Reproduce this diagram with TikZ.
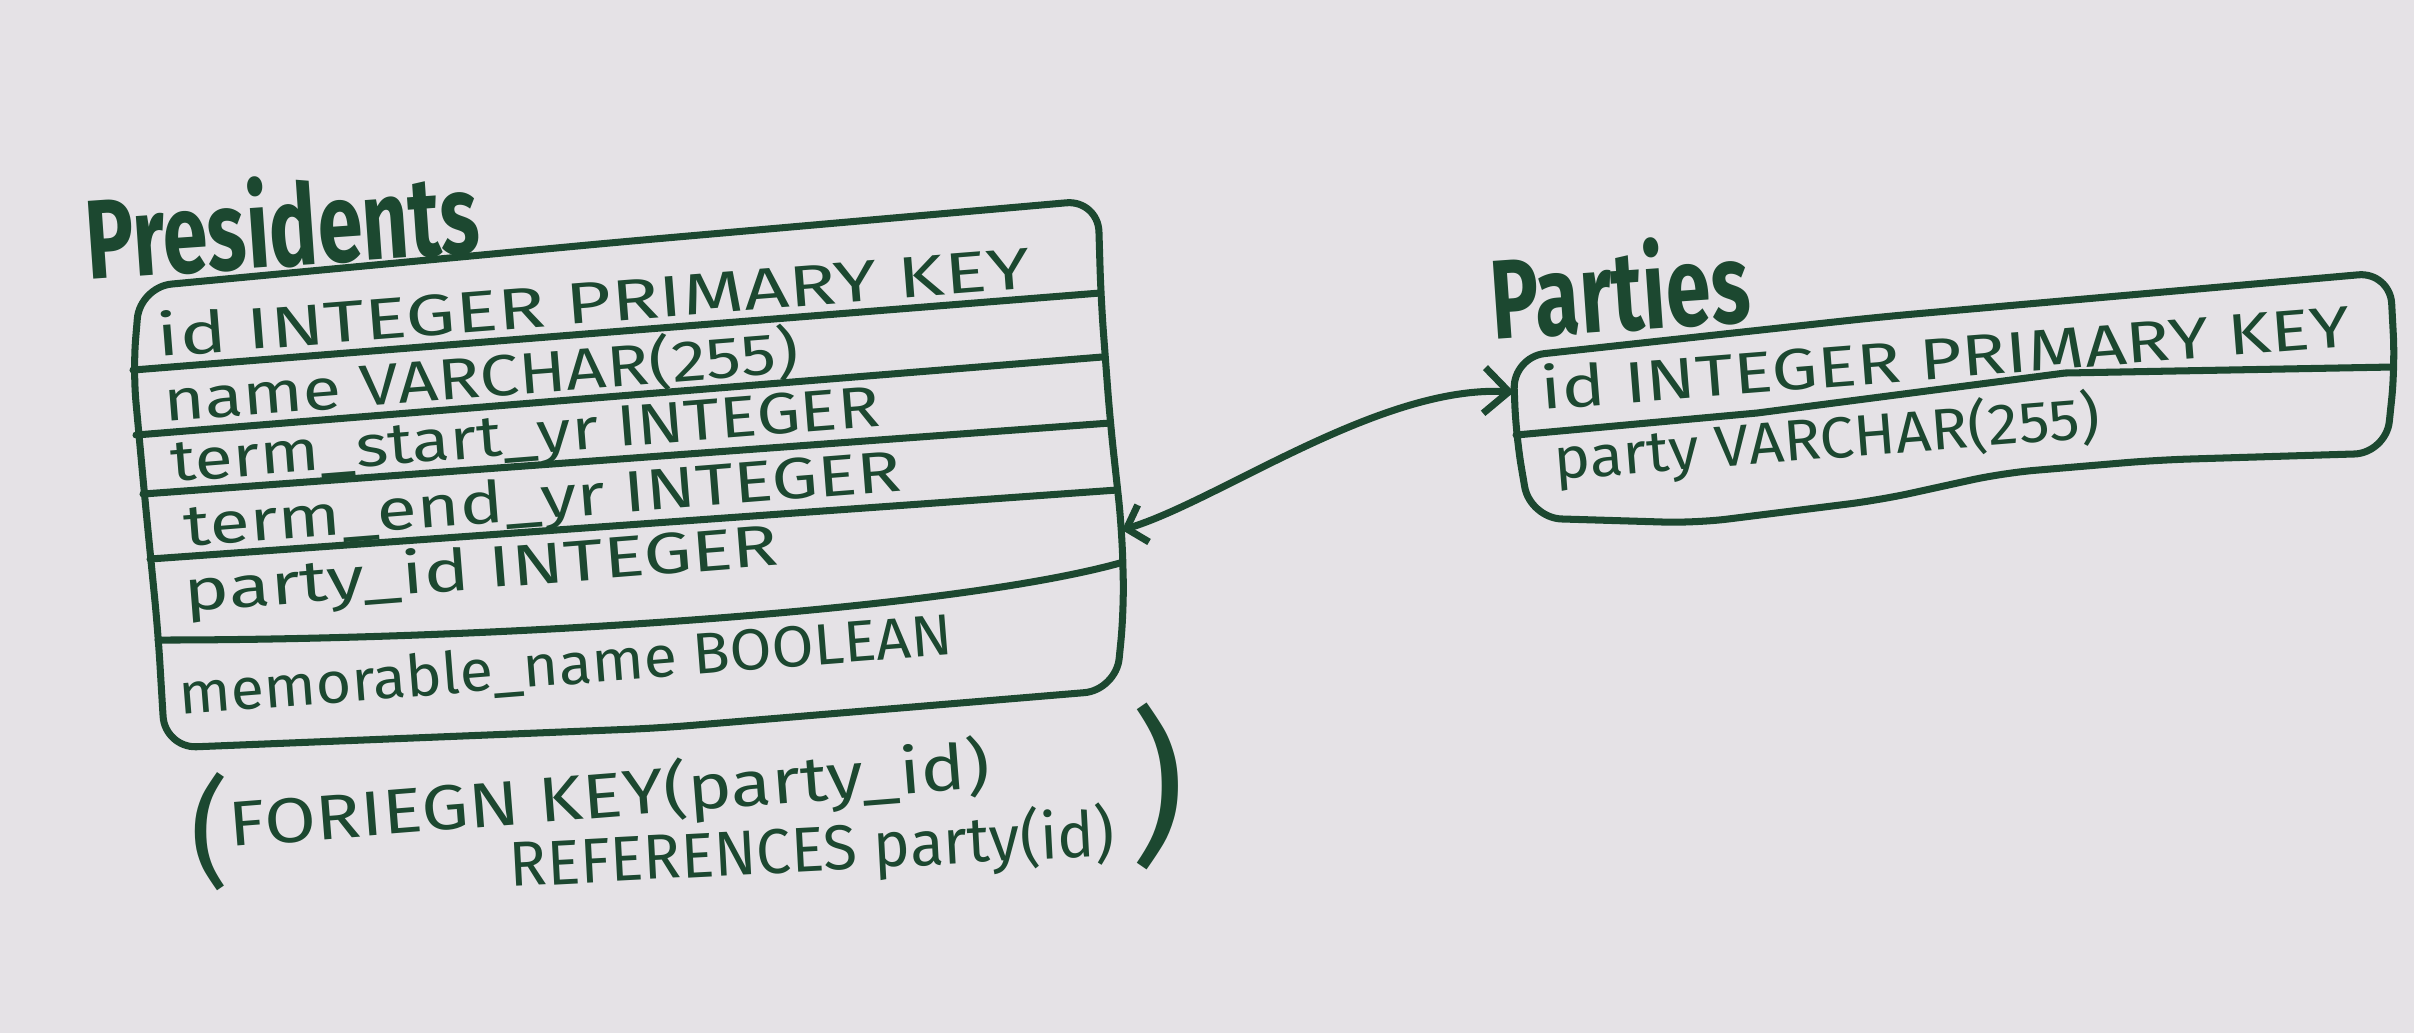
\documentclass[tikz,border=0pt]{standalone}
\usepackage{fontspec}
\setmainfont{Fira Sans}
\usetikzlibrary{arrows.meta}
\definecolor{ink}{RGB}{28,72,48}
\definecolor{paperin}{RGB}{229,226,230}
\definecolor{paperout}{RGB}{160,152,155}
\pgfdeclareradialshading{paper}{\pgfpoint{0bp}{0bp}}{color(0bp)=(paperin); color(46bp)=(paperin); color(72bp)=(paperout)}

\begin{document}
\begin{tikzpicture}[
  inkline/.style={draw=ink,line width=2pt,line cap=round,line join=round},
  field/.style={text=ink,font=\fontsize{16.5}{20}\selectfont,anchor=base west,inner sep=0pt,rotate=4.5},
  tabletitle/.style={text=ink,font=\fontsize{32}{36}\selectfont\bfseries,anchor=base west,inner sep=0pt,rotate=4,xscale=.72},
  paren/.style={text=ink,inner sep=0pt}]
\useasboundingbox (0,0) rectangle (24.14,-10.32);
\shade[shading=paper] (0,0) rectangle (24.14,-10.32);

\node[tabletitle] (presidents) at (0.88,-2.80) {Presidents};
\draw[inkline,rounded corners=9pt] (1.40,-2.87) -- (6.20,-2.42) -- (10.98,-2.00) -- (11.01,-3.00) -- (11.10,-4.20) -- (11.22,-5.30) -- (11.24,-6.10) -- (11.16,-6.90) -- (6.60,-7.28) -- (1.65,-7.48) -- (1.58,-6.32) -- (1.45,-5.00) -- (1.33,-3.70) -- cycle;
\draw[inkline] (1.33,-3.70) -- (11.00,-2.93);
\draw[inkline] (1.36,-4.35) -- (11.02,-3.57);
\draw[inkline] (1.43,-4.94) -- (11.10,-4.23);
\draw[inkline] (1.50,-5.59) -- (11.17,-4.90);
\draw[inkline] (1.58,-6.40) .. controls (5.00,-6.40) and (9.50,-6.10) .. (11.20,-5.63);
\node[field,xscale=1.36] (pid) at (1.58,-3.57) {id INTEGER PRIMARY KEY};
\node[field,xscale=1.21] (pname) at (1.65,-4.22) {name VARCHAR(255)};
\node[field,xscale=1.20] (pstart) at (1.72,-4.82) {term\_start\_yr INTEGER};
\node[field,xscale=1.265] (pend) at (1.85,-5.47) {term\_end\_yr INTEGER};
\node[field,xscale=1.32] (pparty) at (1.85,-6.12) {party\_id INTEGER};
\node[field,xscale=1.05] (pmemo) at (1.80,-7.15) {memorable\_name BOOLEAN};
\coordinate (fkend) at (11.22,-5.30);

\node[paren,font=\fontsize{34}{34}\selectfont] (lparen) at (2.10,-8.32) {(};
\node[field,font=\fontsize{18}{22}\selectfont,xscale=1.18] (fkone) at (2.30,-8.47) {FORIEGN KEY(party\_id)};
\node[field,font=\fontsize{18}{22}\selectfont,rotate=-1.5,xscale=0.98] (fktwo) at (5.10,-8.87) {REFERENCES party(id)};
\node[paren,font=\fontsize{48}{48}\selectfont] (rparen) at (11.58,-7.86) {)};

\node[tabletitle] (parties) at (14.93,-3.40) {Parties};
\draw[inkline,rounded corners=9pt] (15.13,-3.57) -- (18.80,-3.17) -- (23.90,-2.72) -- (23.95,-3.67) -- (23.86,-4.53) -- (21.57,-4.60) -- (20.03,-4.73) -- (18.80,-5.00) -- (16.96,-5.23) -- (15.30,-5.18) -- (15.16,-4.36) -- cycle;
\draw[inkline] (15.16,-4.35) -- (17.57,-4.13) -- (20.65,-3.73) -- (23.92,-3.67);
\node[field,xscale=1.26] (yid) at (15.42,-4.10) {id INTEGER PRIMARY KEY};
\node[field,xscale=1.06] (yparty) at (15.55,-4.80) {party VARCHAR(255)};
\coordinate (pkend) at (15.14,-3.92);

\draw[inkline,{Straight Barb[length=5pt,width=11pt]}-{Straight Barb[length=7pt,width=13pt]}] (fkend) .. controls (12.20,-5.00) and (13.80,-3.85) .. (pkend);
\end{tikzpicture}
\end{document}
